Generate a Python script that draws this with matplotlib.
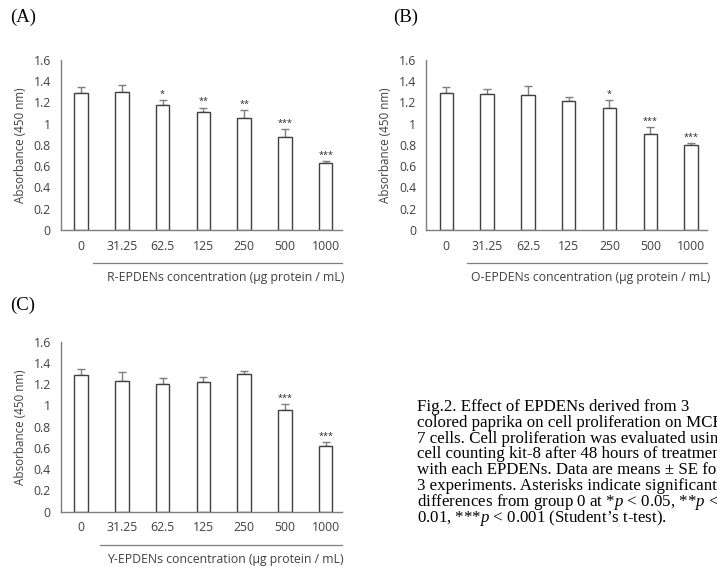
import matplotlib
matplotlib.use("Agg")
import matplotlib.pyplot as plt
import numpy as np

# concentrations (µg protein / mL)
conc = ["0", "31.25", "62.5", "125", "250", "500", "1000"]

# mean absorbance and SE
mean_r = [1.286, 1.302, 1.176, 1.107, 1.057, 0.872, 0.634]
se_r = [0.057, 0.066, 0.048, 0.044, 0.072, 0.079, 0.012]
stars_r = ["", "", "*", "**", "**", "***", "***"]

mean_o = [1.286, 1.277, 1.270, 1.214, 1.148, 0.900, 0.797]
se_o = [0.057, 0.053, 0.088, 0.041, 0.076, 0.066, 0.019]
stars_o = ["", "", "", "", "*", "***", "***"]

mean_y = [1.286, 1.233, 1.205, 1.220, 1.293, 0.957, 0.621]
se_y = [0.057, 0.085, 0.050, 0.050, 0.028, 0.056, 0.032]
stars_y = ["", "", "", "", "", "***", "***"]

xlabels = ["R-EPDENs concentration (\u00b5g protein / mL)",
           "O-EPDENs concentration (\u00b5g protein / mL)",
           "Y-EPDENs concentration (\u00b5g protein / mL)"]

caption_lines = ["Fig.2. Effect of EPDENs derived from 3",
                 "colored paprika on cell proliferation on MCF-",
                 "7 cells. Cell proliferation was evaluated using",
                 "cell counting kit-8 after 48 hours of treatment",
                 "with each EPDENs. Data are means \u00b1 SE for",
                 "3 experiments. Asterisks indicate significant",
                 "differences from group 0 at *$p$ < 0.05, **$p$ <",
                 "0.01, ***$p$ < 0.001 (Student\u2019s t-test)."]

plt.rcParams['font.family'] = ['Open Sans', 'DejaVu Sans']
plt.rcParams['mathtext.fontset'] = 'custom'
plt.rcParams['mathtext.it'] = 'Liberation Serif:italic'
plt.rcParams['mathtext.rm'] = 'Liberation Serif'
dark = "#404040"

fig = plt.figure(figsize=(7.17, 5.67), dpi=100)


def panel(rect, means, ses, stars, xlabel, line_x0):
    ax = fig.add_axes(rect)
    x = np.arange(len(conc))
    ax.bar(x, means, width=0.33, color="white", edgecolor=dark, linewidth=1.0, zorder=2)
    ax.errorbar(x, means, yerr=[np.zeros(len(ses)), ses], fmt="none", ecolor="#7f7f7f",
                elinewidth=1.0, capsize=2.7, capthick=1.0, zorder=1)
    for xi, m, s, st in zip(x, means, ses, stars):
        if st:
            ax.annotate(st, (xi, m + s), xytext=(0, 1), textcoords="offset points",
                        ha="center", va="bottom", fontsize=6.5, color="#222222")
    ax.set_xlim(-0.5, 6.4)
    ax.set_ylim(0, 1.6)
    ax.set_yticks(np.arange(0, 1.61, 0.2))
    ax.set_yticklabels(["0", "0.2", "0.4", "0.6", "0.8", "1", "1.2", "1.4", "1.6"])
    ax.set_xticks(x)
    ax.set_xticklabels(conc)
    ax.tick_params(length=0, labelsize=8.8, colors=dark, pad=7)
    ax.tick_params(axis="y", pad=7)
    for s in ["top", "right"]:
        ax.spines[s].set_visible(False)
    for s in ["left", "bottom"]:
        ax.spines[s].set_color("#7f7f7f")
        ax.spines[s].set_linewidth(1.0)
    ax.set_ylabel("Absorbance (450 nm)", fontsize=8.4, color=dark, labelpad=5)
    ax.plot([line_x0, 1.0], [-0.194, -0.194], transform=ax.transAxes, color="#7f7f7f",
            linewidth=0.9, clip_on=False)
    ax.text(0.585, -0.28, xlabel, transform=ax.transAxes, ha="center", va="center",
            fontsize=8.8, color=dark)
    return ax


panel([0.0845, 0.5944, 0.3926, 0.2998], mean_r, se_r, stars_r, xlabels[0], 0.115)
panel([0.594, 0.5944, 0.3926, 0.2998], mean_o, se_o, stars_o, xlabels[1], 0.146)
panel([0.0845, 0.0975, 0.3926, 0.2998], mean_y, se_y, stars_y, xlabels[2], 0.14)

serif = "Liberation Serif"
fig.text(10 / 717, 1 - 17 / 567, "(A)", family=serif, fontsize=13.5, va="center")
fig.text(393 / 717, 1 - 17 / 567, "(B)", family=serif, fontsize=13.5, va="center")
fig.text(10 / 717, 1 - 305 / 567, "(C)", family=serif, fontsize=13.5, va="center")

# caption, one line at a time so the baselines stay even
for i, line in enumerate(caption_lines):
    y_px = 411 + i * 15.8
    fig.text(417 / 717, 1 - y_px / 567, line, family=serif, fontsize=12.2,
             va="baseline", ha="left")

fig.savefig("out.png", dpi=100)
